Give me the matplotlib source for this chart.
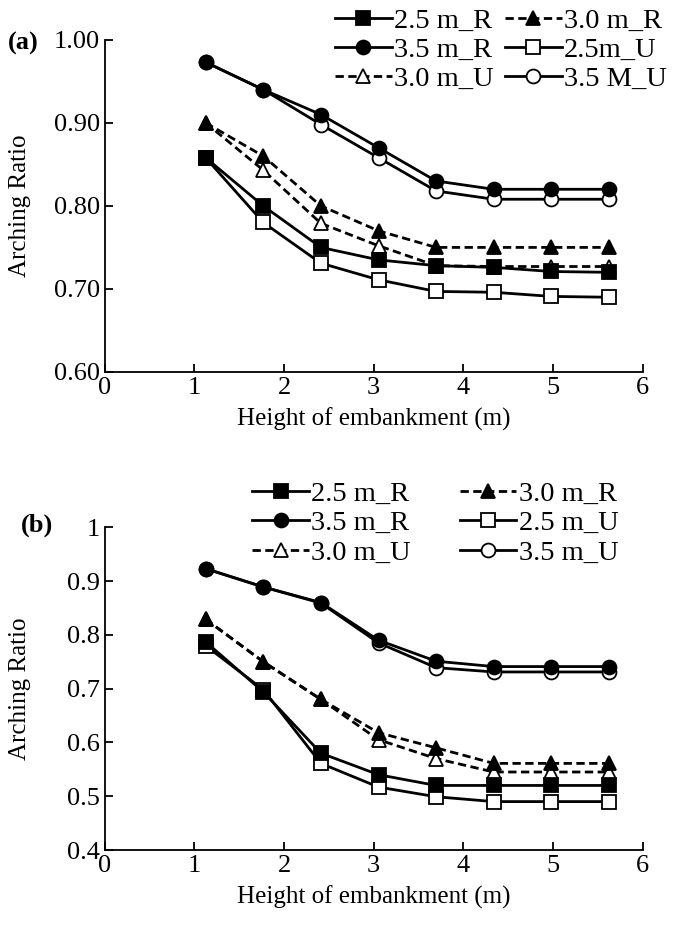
import matplotlib.pyplot as plt
import numpy as np

plt.rcParams['font.family'] = ['Liberation Serif', 'DejaVu Serif']

# embankment heights (m)
heights = [1.125, 1.768, 2.411, 3.054, 3.696, 4.339, 4.982, 5.625]

# panel (a)
a_25R = [0.858, 0.800, 0.750, 0.735, 0.728, 0.726, 0.721, 0.720]
a_30R = [0.900, 0.860, 0.800, 0.770, 0.750, 0.750, 0.750, 0.750]
a_35R = [0.973, 0.940, 0.910, 0.870, 0.830, 0.820, 0.820, 0.820]
a_25U = [0.858, 0.780, 0.731, 0.711, 0.697, 0.696, 0.691, 0.690]
a_30U = [0.900, 0.843, 0.779, 0.752, 0.728, 0.727, 0.727, 0.727]
a_35U = [0.973, 0.940, 0.898, 0.858, 0.818, 0.808, 0.808, 0.808]

# panel (b)
b_25R = [0.787, 0.694, 0.580, 0.540, 0.520, 0.520, 0.520, 0.520]
b_30R = [0.829, 0.750, 0.680, 0.618, 0.590, 0.561, 0.561, 0.561]
b_35R = [0.923, 0.889, 0.860, 0.790, 0.751, 0.741, 0.741, 0.741]
b_25U = [0.780, 0.698, 0.561, 0.517, 0.499, 0.490, 0.490, 0.490]
b_30U = [0.829, 0.750, 0.680, 0.605, 0.570, 0.545, 0.545, 0.545]
b_35U = [0.923, 0.889, 0.859, 0.785, 0.739, 0.731, 0.731, 0.731]

labels_a = ['2.5 m_R', '3.0 m_R', '3.5 m_R', '2.5m_U', '3.0 m_U', '3.5 M_U']
labels_b = ['2.5 m_R', '3.0 m_R', '3.5 m_R', '2.5 m_U', '3.0 m_U', '3.5 m_U']

styles = [('s', 'k', '-'), ('^', 'k', '--'), ('o', 'k', '-'),
          ('s', 'w', '-'), ('^', 'w', '--'), ('o', 'w', '-')]

fig = plt.figure(figsize=(6.85, 9.41), dpi=100)
ax1 = fig.add_axes([0.153, 0.6047, 0.785, 0.353])
ax2 = fig.add_axes([0.153, 0.0967, 0.785, 0.343])


def draw(ax, series, labels):
    handles = [None] * 6
    # open (U) series first so the filled (R) markers sit on top
    for i in [3, 4, 5, 0, 1, 2]:
        m, fc, ls = styles[i]
        h, = ax.plot(heights, series[i], ls=ls, color='k', lw=2.0, marker=m,
                     markersize=10, markerfacecolor=fc, markeredgecolor='k',
                     markeredgewidth=1.3, label=labels[i],
                     dashes=(3, 1.6) if ls == '--' else (None, None))
        handles[i] = h
    for s in ['top', 'right']:
        ax.spines[s].set_visible(False)
    for s in ['left', 'bottom']:
        ax.spines[s].set_linewidth(1.3)
    ax.tick_params(direction='in', length=6, width=1.3, labelsize=19)
    ax.set_xlim(0, 6)
    ax.set_xticks(range(0, 7))
    ax.set_xlabel('Height of embankment (m)', fontsize=18, labelpad=6)
    ax.set_ylabel('Arching Ratio', fontsize=18)
    ax.yaxis.set_label_coords(-0.138, 0.5)
    # column-wise fill: reorder so rows read R/R, R/U, U/U
    order = [0, 2, 4, 1, 3, 5]
    return [handles[i] for i in order], [labels[i] for i in order]


h, l = draw(ax1, [a_25R, a_30R, a_35R, a_25U, a_30U, a_35U], labels_a)
ax1.set_ylim(0.60, 1.00)
ax1.set_yticks(np.arange(0.60, 1.001, 0.10))
ax1.set_yticklabels(['0.60', '0.70', '0.80', '0.90', '1.00'])
fig.legend(h, l, ncol=2, loc='upper right', bbox_to_anchor=(1.003, 1.013),
           frameon=False, fontsize=20.5, handlelength=2.0, handletextpad=0.08,
           columnspacing=0.4, labelspacing=0.12, borderpad=0.2)

h, l = draw(ax2, [b_25R, b_30R, b_35R, b_25U, b_30U, b_35U], labels_b)
ax2.set_ylim(0.4, 1.0)
ax2.set_yticks(np.arange(0.4, 1.001, 0.1))
ax2.set_yticklabels(['0.4', '0.5', '0.6', '0.7', '0.8', '0.9', '1'])
fig.legend(h, l, ncol=2, loc='upper right', bbox_to_anchor=(0.932, 0.510),
           frameon=False, fontsize=20.5, handlelength=2.0, handletextpad=0.08,
           columnspacing=1.7, labelspacing=0.12, borderpad=0.2)

fig.text(0.012, 0.947, '(a)', fontsize=19, fontweight='bold')
fig.text(0.03, 0.435, '(b)', fontsize=19, fontweight='bold')

fig.savefig('out.png', dpi=100)
